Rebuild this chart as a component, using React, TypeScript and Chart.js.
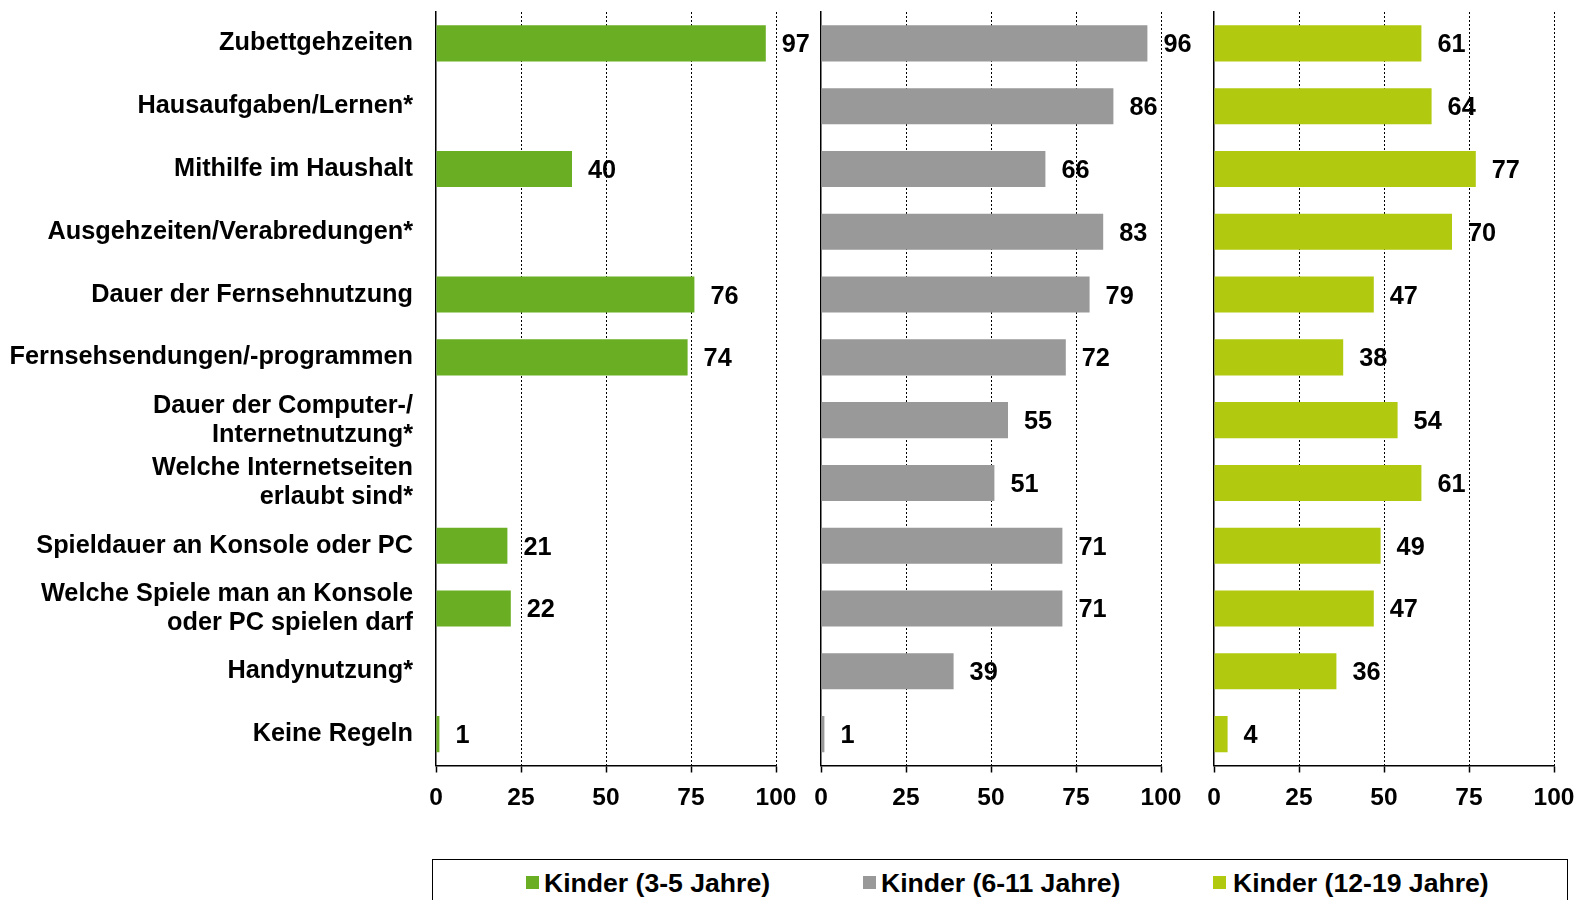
import React, { useEffect, useRef } from "react";
import { Chart, registerables } from "chart.js";

Chart.register(...registerables);

const categories: (string | string[])[] = [
  "Zubettgehzeiten",
  "Hausaufgaben/Lernen*",
  "Mithilfe im Haushalt",
  "Ausgehzeiten/Verabredungen*",
  "Dauer der Fernsehnutzung",
  "Fernsehsendungen/-programmen",
  ["Dauer der Computer-/", "Internetnutzung*"],
  ["Welche Internetseiten", "erlaubt sind*"],
  "Spieldauer an Konsole oder PC",
  ["Welche Spiele man an Konsole", "oder PC spielen darf"],
  "Handynutzung*",
  "Keine Regeln",
];

const kids3to5 = [97, null, 40, null, 76, 74, null, null, 21, 22, null, 1];
const kids6to11 = [96, 86, 66, 83, 79, 72, 55, 51, 71, 71, 39, 1];
const kids12to19 = [61, 64, 77, 70, 47, 38, 54, 61, 49, 47, 36, 4];

const seriesNames = ["Kinder (3-5 Jahre)", "Kinder (6-11 Jahre)", "Kinder (12-19 Jahre)"];
const seriesColors = ["#6aaf23", "#999999", "#b1ca0f"];
const xTicks = [0, 25, 50, 75, 100];

const FONT = '"Liberation Sans", Arial, Helvetica, sans-serif';
const CANVAS_H = 830;
const PLOT_TOP = 12;
const PLOT_BOTTOM = 765.5;

const valueLabels = {
  id: "valueLabels",
  afterDatasetsDraw(chart: any) {
    const ctx = chart.ctx;
    const meta = chart.getDatasetMeta(0);
    const values = chart.data.datasets[0].data;
    ctx.save();
    ctx.font = `bold 25.3px ${FONT}`;
    ctx.fillStyle = "#000";
    ctx.textAlign = "left";
    ctx.textBaseline = "middle";
    meta.data.forEach((bar: any, i: number) => {
      const v = values[i];
      if (v === null || v === undefined || !isFinite(bar.x)) return;
      ctx.fillText(String(v), bar.x + 16, bar.y + 2);
    });
    ctx.restore();
  },
};

type PanelProps = {
  left: number;
  width: number;
  plotLeft: number;
  plotRight: number;
  values: (number | null)[];
  color: string;
  name: string;
  showLabels: boolean;
};

function Panel({ left, width, plotLeft, plotRight, values, color, name, showLabels }: PanelProps) {
  const ref = useRef<HTMLCanvasElement | null>(null);
  useEffect(() => {
    if (!ref.current) return;
    const chart = new Chart(ref.current, {
      type: "bar",
      data: {
        labels: categories as any,
        datasets: [
          {
            label: name,
            data: values as any,
            backgroundColor: color,
            borderWidth: 0,
            barPercentage: 0.575,
            categoryPercentage: 1,
          },
        ],
      },
      options: {
        indexAxis: "y",
        animation: false,
        responsive: false,
        maintainAspectRatio: false,
        layout: { padding: { top: PLOT_TOP, left: 0, right: width - (plotRight - left), bottom: 0 } },
        plugins: { legend: { display: false }, tooltip: { enabled: false } },
        scales: {
          x: {
            type: "linear",
            min: 0,
            max: 100,
            afterBuildTicks: (s: any) => {
              s.ticks = xTicks.map((v) => ({ value: v }));
            },
            ticks: {
              font: { family: FONT, size: 24.5, weight: "bold" },
              color: "#000",
              padding: 11.5,
              maxRotation: 0,
            },
            grid: {
              color: (c: any) => (c.tick && c.tick.value === 0 ? "rgba(0,0,0,0)" : "#000"),
              lineWidth: 1,
              drawTicks: true,
              tickLength: 7,
              tickColor: "#000",
              tickWidth: 1.5,
              tickBorderDash: [],
            },
            border: { display: true, color: "#000", width: 1.5, dash: [2, 2] },
            afterFit: (s: any) => {
              s.height = CANVAS_H - PLOT_BOTTOM;
              s.paddingLeft = 0;
              s.paddingRight = 0;
            },
          } as any,
          y: {
            type: "category",
            ticks: {
              display: showLabels,
              font: { family: FONT, size: 25.3, weight: "bold", lineHeight: 1.15 },
              color: "#000",
              padding: 23,
            },
            grid: { display: false, drawTicks: false },
            border: { display: true, color: "#000", width: 1.5 },
            afterFit: (s: any) => {
              s.width = plotLeft - left;
              s.paddingTop = 0;
              s.paddingBottom = 0;
            },
          } as any,
        },
      },
      plugins: [valueLabels],
    });
    return () => chart.destroy();
  }, []);
  return (
    <canvas
      ref={ref}
      width={width}
      height={CANVAS_H}
      style={{ position: "absolute", left, top: 0, width, height: CANVAS_H }}
    />
  );
}

const legendPos = [
  { marker: 526, text: 544 },
  { marker: 863, text: 881 },
  { marker: 1213, text: 1233 },
];

export default function App() {
  const panels = [
    { left: 0, width: 820, plotLeft: 436, plotRight: 776, values: kids3to5, showLabels: true },
    { left: 800, width: 400, plotLeft: 821, plotRight: 1161, values: kids6to11, showLabels: false },
    { left: 1190, width: 410, plotLeft: 1214, plotRight: 1554, values: kids12to19, showLabels: false },
  ];
  return (
    <div
      style={{
        position: "absolute",
        left: 0,
        top: 0,
        width: 1577,
        height: 900,
        overflow: "hidden",
        background: "#fff",
        fontFamily: FONT,
      }}
    >
      {panels.map((p, i) => (
        <Panel
          key={i}
          left={p.left}
          width={p.width}
          plotLeft={p.plotLeft}
          plotRight={p.plotRight}
          values={p.values}
          color={seriesColors[i]}
          name={seriesNames[i]}
          showLabels={p.showLabels}
        />
      ))}
      <div
        style={{
          position: "absolute",
          left: 432,
          top: 859,
          width: 1136,
          height: 60,
          border: "1.5px solid #000",
          boxSizing: "border-box",
        }}
      />
      {seriesNames.map((n, i) => (
        <React.Fragment key={n}>
          <div
            style={{
              position: "absolute",
              left: legendPos[i].marker,
              top: 876,
              width: 13,
              height: 13,
              background: seriesColors[i],
            }}
          />
          <div
            style={{
              position: "absolute",
              left: legendPos[i].text,
              top: 868,
              height: 30,
              lineHeight: "30px",
              fontSize: 26.6,
              fontWeight: "bold",
              color: "#000",
              whiteSpace: "nowrap",
            }}
          >
            {n}
          </div>
        </React.Fragment>
      ))}
    </div>
  );
}
